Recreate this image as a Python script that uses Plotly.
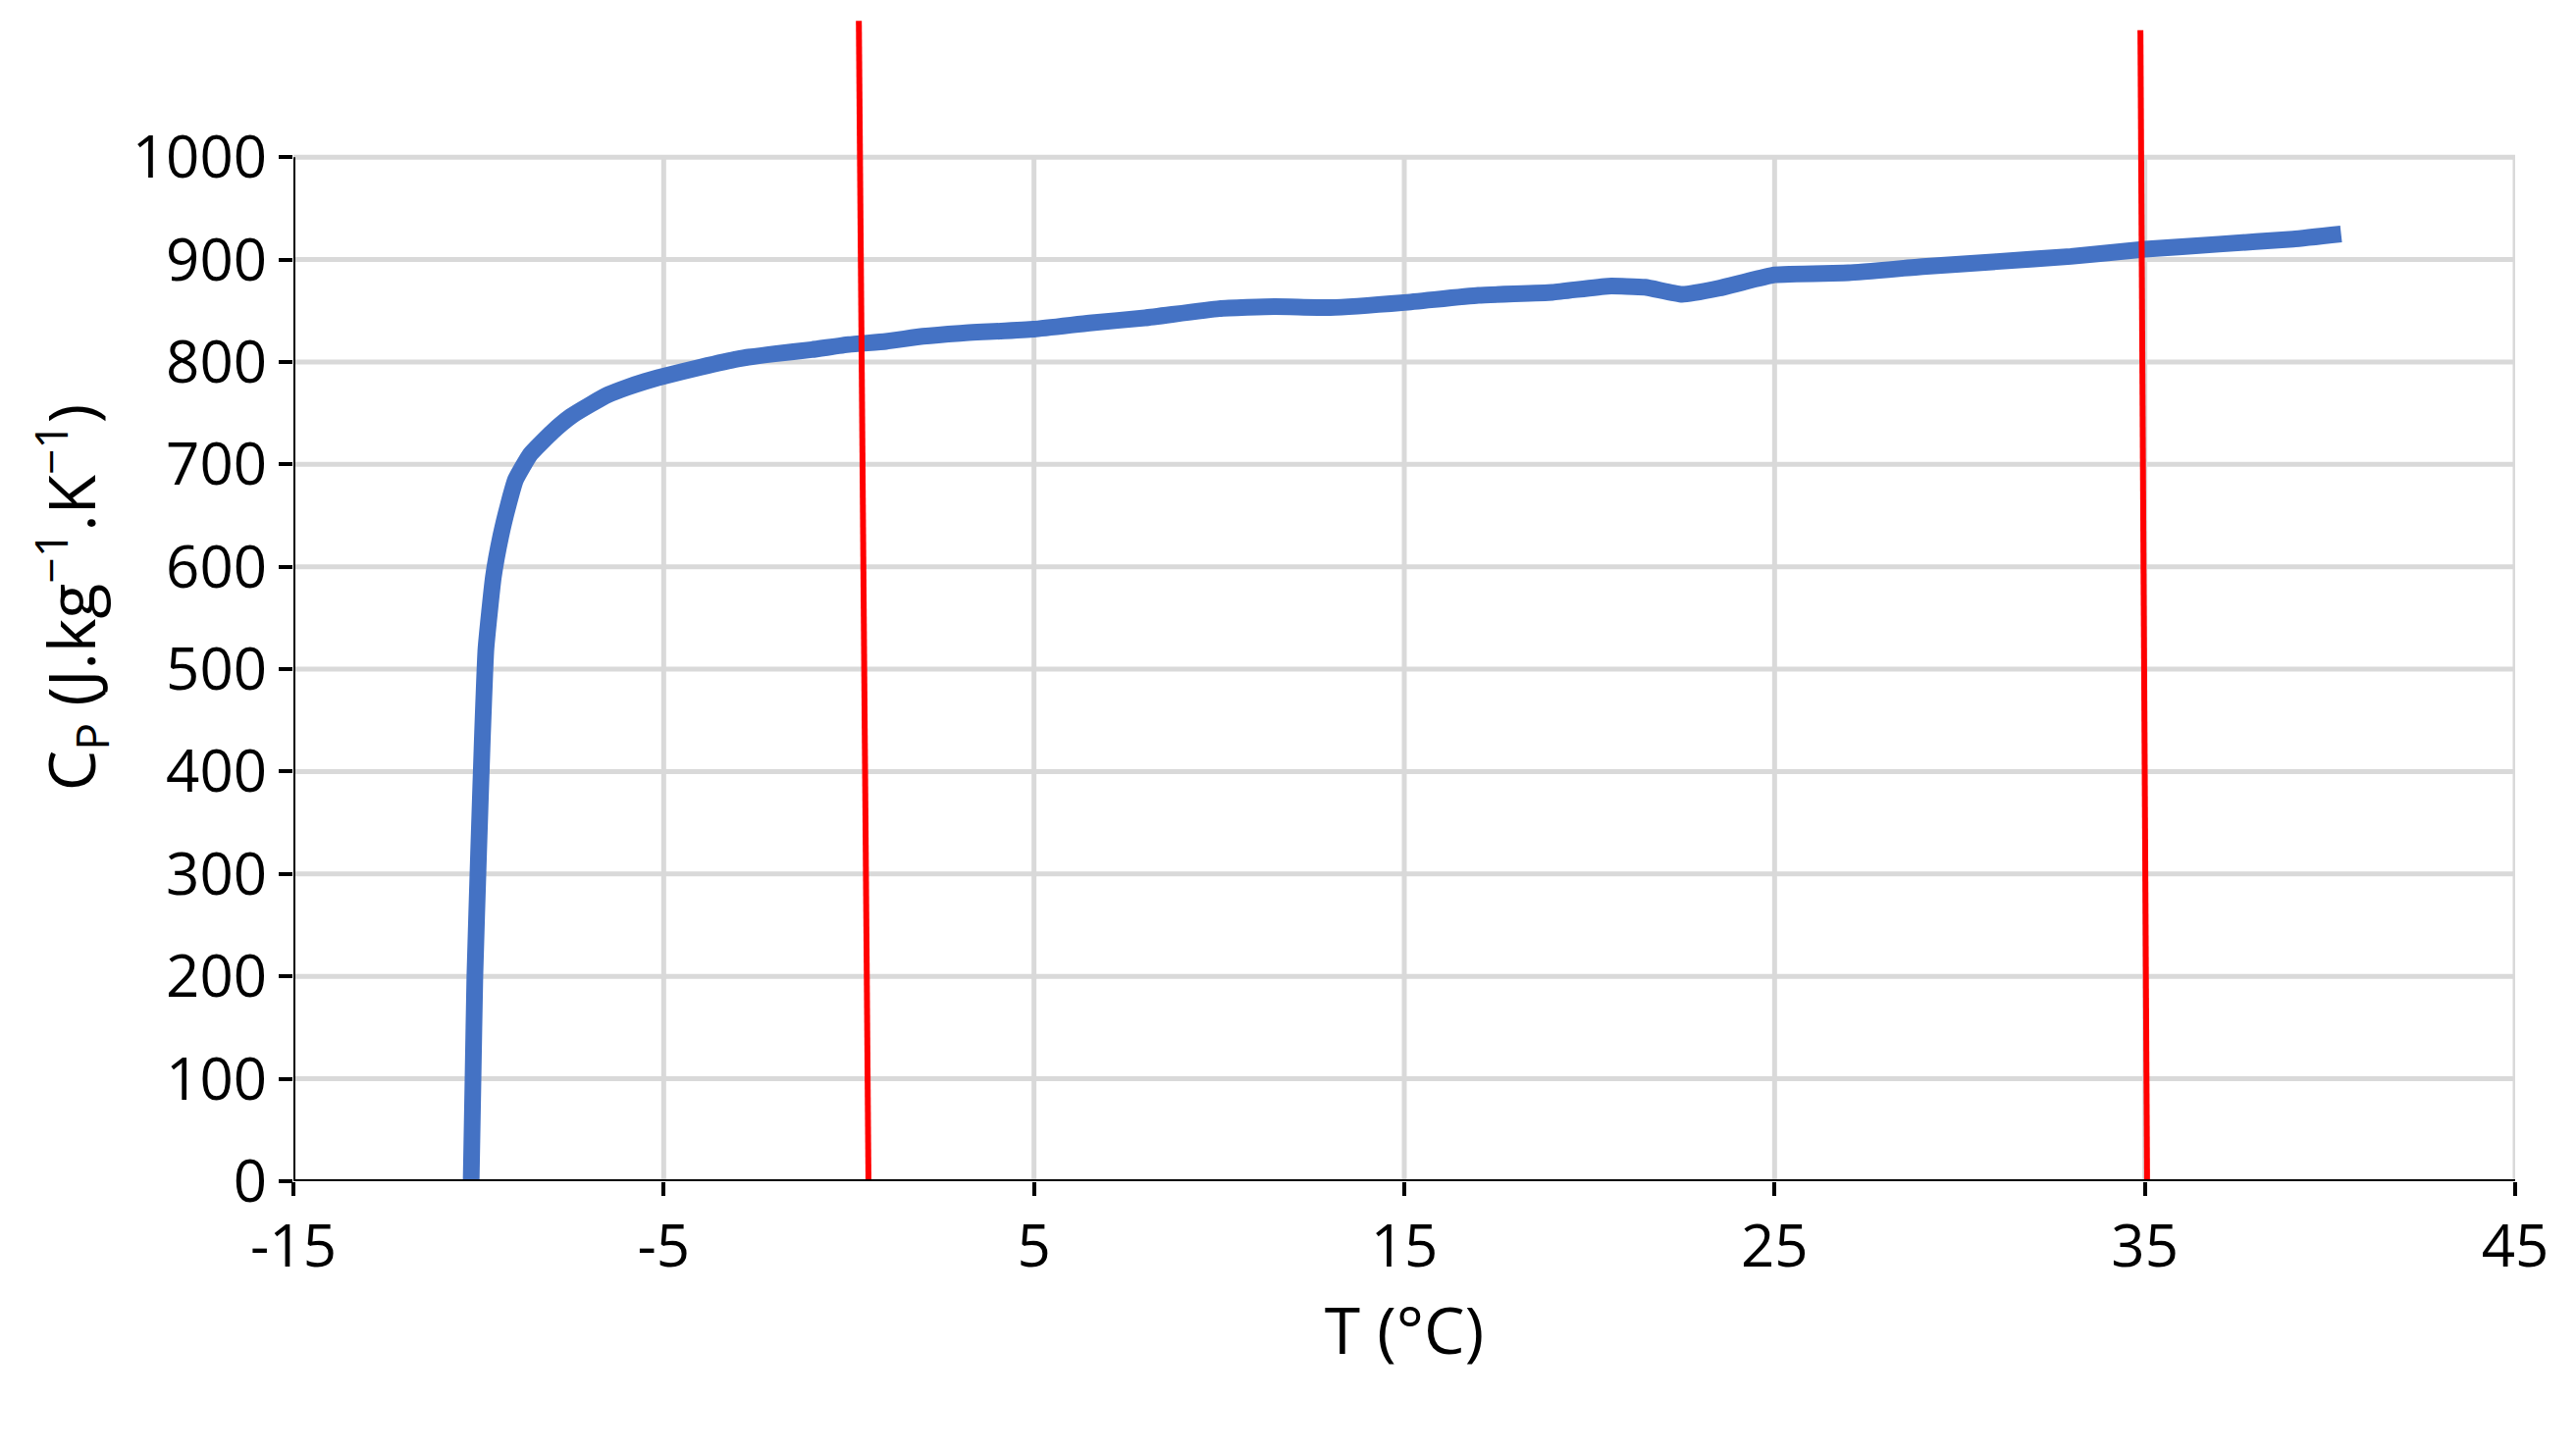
import plotly.graph_objects as go

T = [-10.2, -10.15, -10.1, -10.0, -9.9, -9.8, -9.6, -9.4, -9.2, -9.0, -8.6, -8.0, -7.5, -7.0, -6.5, -6.0, -5.5, -5.0, -4.0, -3.0, -2.0, -1.0, 0.0, 1.0, 2.0, 3.0, 5.0, 6.5, 8.0, 10.0, 11.5, 13.0, 15.0, 17.0, 19.0, 20.5, 21.5, 22.5, 23.5, 25.0, 27.0, 29.0, 31.0, 33.0, 35.0, 37.0, 39.0, 40.3]
CP = [0, 100, 200, 320, 430, 520, 590, 630, 660, 685, 710, 732, 747, 758, 768, 775, 781, 786, 795, 803, 808, 812, 817, 820, 825, 828, 832, 838, 843, 852, 854, 853, 858, 865, 868, 874, 873, 866, 872, 885, 887, 893, 898, 903, 910, 915, 920, 925]
red1_T = [0.27, 0.53]
red1_CP = [1133, 0]
red2_T = [34.88, 35.06]
red2_CP = [1124, 0]
xticks = [-15, -5, 5, 15, 25, 35, 45]
xticklabels = ["-15", "-5", "5", "15", "25", "35", "45"]
yticks = list(range(0, 1001, 100))

fig = go.Figure()
grid = dict(color="#d9d9d9", width=5)
for xv in xticks[1:]:
    fig.add_shape(type="line", x0=xv, x1=xv, y0=0, y1=1000, line=grid, layer="below")
for yv in yticks[1:]:
    fig.add_shape(type="line", x0=-15, x1=45, y0=yv, y1=yv, line=grid, layer="below")
fig.add_shape(type="line", x0=-15, x1=-15, y0=0, y1=1000, line=dict(color="black", width=4), layer="below")

fig.add_trace(go.Scatter(x=T, y=CP, mode="lines", line=dict(color="#4472c4", width=17, shape="spline", smoothing=0.4)))
fig.add_trace(go.Scatter(x=red1_T, y=red1_CP, mode="lines", line=dict(color="#ff0000", width=6)))
fig.add_trace(go.Scatter(x=red2_T, y=red2_CP, mode="lines", line=dict(color="#ff0000", width=6)))

fnt = dict(family="Open Sans, Liberation Sans, sans-serif", size=60, color="black")
fig.update_layout(
    width=2625, height=1479, showlegend=False,
    plot_bgcolor="white", paper_bgcolor="white",
    margin=dict(l=291, r=70, t=6, b=283),
    font=fnt,
    xaxis=dict(range=[-15, 45], tickvals=xticks, ticktext=xticklabels, showgrid=False, zeroline=False,
               showline=False, ticks="outside", ticklen=14, tickwidth=4, tickcolor="black",
               title=dict(text="T (°C)", font=dict(size=66), standoff=25)),
    yaxis=dict(range=[0, 1140], tickvals=yticks, showgrid=False, zeroline=False,
               showline=False, ticks="outside", ticklen=14, tickwidth=4, tickcolor="black",
               title=dict(text="C<sub>P</sub> (J.kg<sup>−1</sup>.K<sup>−1</sup>)", font=dict(size=66), standoff=15)),
)
fig.add_shape(type="line", x0=-15, x1=45, y0=0, y1=0, line=dict(color="black", width=4), layer="above")
fig.write_html("out.html")
